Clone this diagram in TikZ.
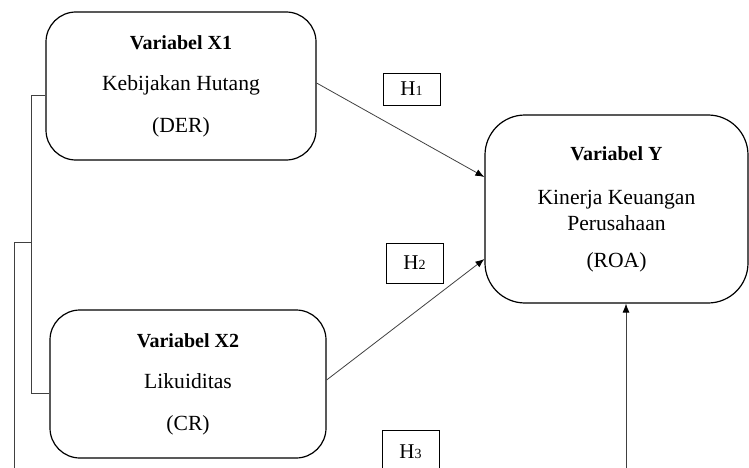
\documentclass[tikz,border=0pt]{standalone}
\usepackage{fontspec}
\setmainfont{Liberation Serif}
\usetikzlibrary{arrows.meta}
\newcommand{\ttltext}{\fontsize{20}{24}\selectfont\bfseries}
\newcommand{\hlab}[1]{\fontsize{21}{22}\selectfont H\fontsize{14}{14}\selectfont #1}
\begin{document}
\begin{tikzpicture}[x=1pt,y=-1pt,
  varbox/.style={draw=black,line width=1.2pt,rounded corners=30pt,align=center,inner sep=0pt,
    font=\fontsize{21.6}{41.5}\selectfont},
  hbox/.style={draw=black,line width=0.9pt,inner sep=0pt},
  conn/.style={draw=black!75,line width=0.8pt},
  arr/.style={conn,-{Latex[length=9pt,width=7pt,black]}}]
\useasboundingbox (0,0) rectangle (749,468);
\clip (0,0) rectangle (749,468);
% variable boxes
\node[varbox,minimum width=270pt,minimum height=148pt] (X1) at (181,86)
  {{\ttltext Variabel X1}\\Kebijakan Hutang\\(DER)};
\node[varbox,minimum width=276pt,minimum height=148pt] (X2) at (188,384)
  {{\ttltext Variabel X2}\\Likuiditas\\(CR)};
\node[varbox,rounded corners=40pt,minimum width=263pt,minimum height=188pt,
  font=\fontsize{21.6}{26}\selectfont] (Y) at (616.5,209)
  {{\ttltext Variabel Y}\\[18pt]Kinerja Keuangan\\Perusahaan\\[11pt](ROA)};
% hypothesis labels
\node[hbox,minimum width=57pt,minimum height=32pt] (H1) at (411.5,89) {\hlab{1}};
\node[hbox,minimum width=57pt,minimum height=40pt] (H2) at (414.5,263) {\hlab{2}};
\node[hbox,minimum width=57pt,minimum height=44pt] (H3) at (410.5,452) {\hlab{3}};
% arrows to Y
\draw[arr] ([yshift=3pt]X1.east) -- ([yshift=32pt]Y.west);
\draw[arr] ([yshift=4pt]X2.east) -- ([yshift=-50pt]Y.west);
\coordinate (h3s) at (626,470);
\draw[arr] (h3s) -- (h3s |- Y.south);
% left bracket lines
\coordinate (ba) at (31,0);
\coordinate (x1w) at ([yshift=-9pt]X1.west);
\coordinate (x2w) at ([yshift=-9pt]X2.west);
\draw[conn] (x1w) -- (x1w -| ba) -- (x2w -| ba) -- (x2w);
\coordinate (bj) at (31,242);
\coordinate (bend) at (14,470);
\draw[conn] (bj) -- (bj -| bend) -- (bend);
\end{tikzpicture}
\end{document}
